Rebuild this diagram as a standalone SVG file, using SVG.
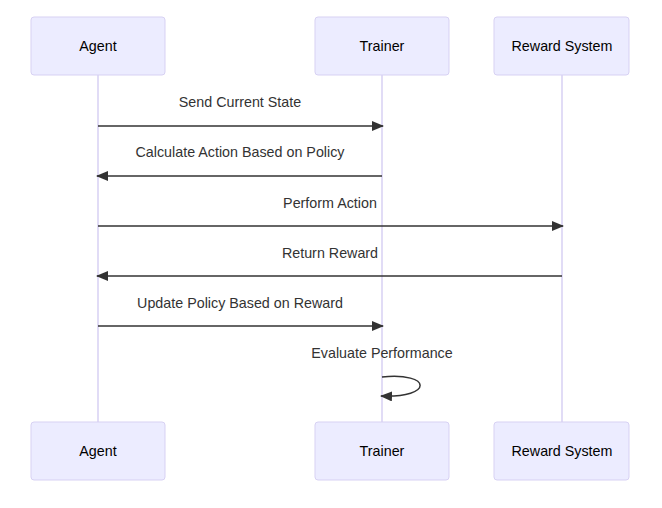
<svg xmlns="http://www.w3.org/2000/svg" width="662" height="508" viewBox="0 0 662 508">
<style>
.actor{fill:#ECECFF;stroke:#D7D1F3;stroke-width:1}
.life{stroke:#D7D1F3;stroke-width:1.5}
.atext{font-family:"Liberation Sans",Arial,sans-serif;font-size:14.3px;fill:#000;text-anchor:middle;dominant-baseline:central}
.mtext{font-family:"Liberation Sans",Arial,sans-serif;font-size:14.3px;fill:#333;text-anchor:middle;dominant-baseline:central}
.msg{stroke:#333;stroke-width:1.5;fill:none}
</style>
<defs>
<marker id="ah" viewBox="0 0 12 10" refX="11" refY="5" markerWidth="12" markerHeight="10" markerUnits="userSpaceOnUse" orient="auto">
<path d="M0,0 L12,5 L0,10 z" fill="#333"/>
</marker>
</defs>
<rect width="662" height="508" fill="#fff"/>
<g id="lifelines">
<line class="life" x1="98" y1="75" x2="98" y2="422"/>
<line class="life" x1="382" y1="75" x2="382" y2="422"/>
<line class="life" x1="562" y1="75" x2="562" y2="422"/>
</g>
<g id="agent-top"><rect class="actor" x="31" y="17" width="134" height="58" rx="3"/><text class="atext" x="98" y="46">Agent</text></g>
<g id="trainer-top"><rect class="actor" x="315" y="17" width="134" height="58" rx="3"/><text class="atext" x="382" y="46">Trainer</text></g>
<g id="reward-top"><rect class="actor" x="494" y="17" width="135" height="58" rx="3"/><text class="atext" x="562" y="46">Reward System</text></g>
<g id="agent-bottom"><rect class="actor" x="31" y="422" width="134" height="58" rx="3"/><text class="atext" x="98" y="451">Agent</text></g>
<g id="trainer-bottom"><rect class="actor" x="315" y="422" width="134" height="58" rx="3"/><text class="atext" x="382" y="451">Trainer</text></g>
<g id="reward-bottom"><rect class="actor" x="494" y="422" width="135" height="58" rx="3"/><text class="atext" x="562" y="451">Reward System</text></g>
<g id="connectors">
<line class="msg" x1="98" y1="126" x2="383" y2="126" marker-end="url(#ah)"/>
<text class="mtext" x="240" y="102">Send Current State</text>
<line class="msg" x1="382" y1="176" x2="97" y2="176" marker-end="url(#ah)"/>
<text class="mtext" x="240" y="152">Calculate Action Based on Policy</text>
<line class="msg" x1="98" y1="226" x2="563" y2="226" marker-end="url(#ah)"/>
<text class="mtext" x="330" y="203">Perform Action</text>
<line class="msg" x1="562" y1="276" x2="97" y2="276" marker-end="url(#ah)"/>
<text class="mtext" x="330" y="253">Return Reward</text>
<line class="msg" x1="98" y1="326" x2="383" y2="326" marker-end="url(#ah)"/>
<text class="mtext" x="240" y="303">Update Policy Based on Reward</text>
<path class="msg" d="M382,377 C432,372 434,398 381,396" marker-end="url(#ah)"/>
<text class="mtext" x="382" y="353">Evaluate Performance</text>
</g>
</svg>
